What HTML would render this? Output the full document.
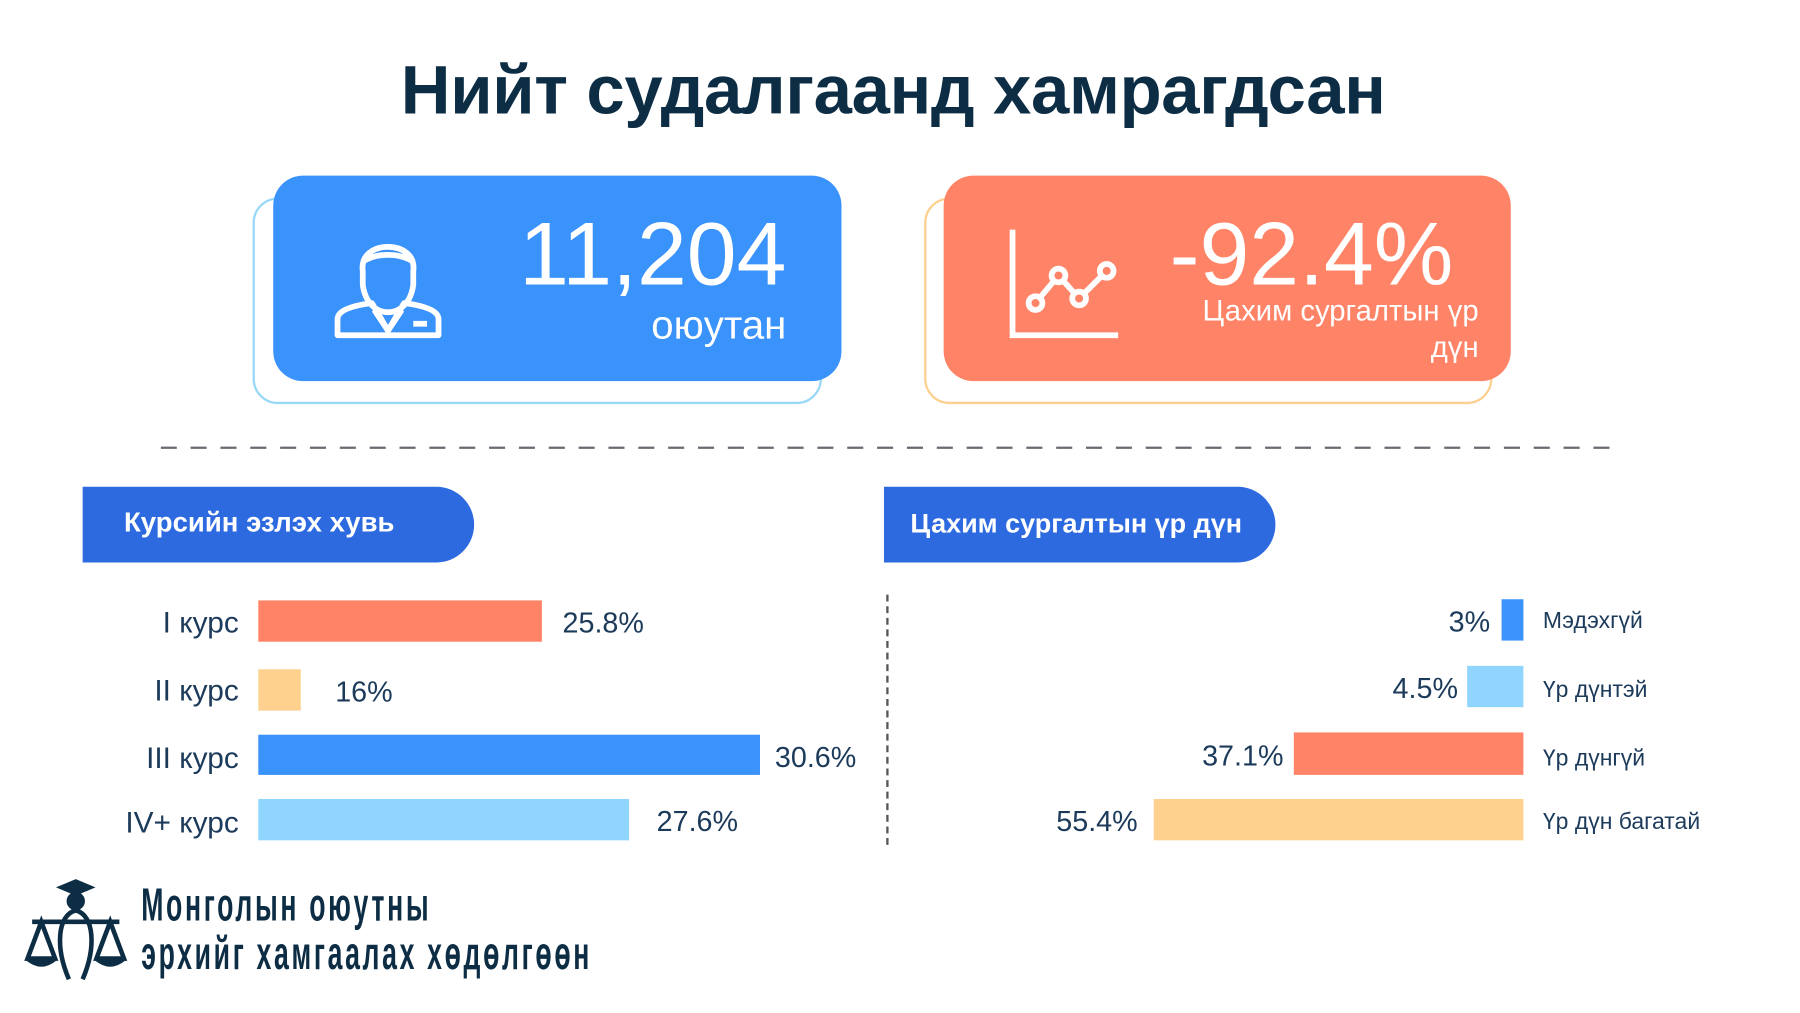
<!DOCTYPE html>
<html><head><meta charset="utf-8"><style>
html,body{margin:0;padding:0;background:#fff;width:1800px;height:1012px;overflow:hidden}
#w{position:absolute;left:0;top:0;width:1568px;height:882px;transform:scale(1.148);transform-origin:0 0;font-family:"Liberation Sans",sans-serif;color:#0d2d45}
.a{position:absolute}
.t{white-space:nowrap}
.lab{position:absolute;right:1360px;font-size:26px;color:#1c3a5a;white-space:nowrap}
.val{position:absolute;font-size:25px;color:#1c3a5a;white-space:nowrap}
.leg{position:absolute;left:1344px;font-size:20px;color:#1c3a5a;white-space:nowrap}
</style></head><body><div id="w">
<div class="a t" style="left:0;width:1556px;top:44px;text-align:center;font-size:60px;font-weight:bold;letter-spacing:-0.3px">Нийт судалгаанд хамрагдсан</div>

<div class="a" style="left:220px;top:172px;width:492px;height:176px;border:2px solid #9ad8f7;border-radius:22px"></div>
<div class="a" style="left:238px;top:153px;width:495px;height:179px;background:#3a92fb;border-radius:26px"></div>
<svg class="a" style="left:288px;top:198px" width="100" height="100" viewBox="0 0 100 100" fill="none" stroke="#fff" stroke-width="5" stroke-linejoin="round">
<path d="M28 38 C24 10 76 10 72 38 L72 50 C70 66 60 74 50 74 C40 74 30 66 28 50 Z"/>
<path d="M28 30 C40 22 60 22 72 30"/>
<path d="M6 94 L6 80 C6 72 20 68 36 66 L50 90 L64 66 C80 68 94 72 94 80 L94 94 Z"/>
<path d="M38 72 L50 90 L62 72"/><path d="M72 84 L84 84"/>
</svg>
<div class="a t" style="right:883px;top:176px;font-size:78px;color:#fff">11,204</div>
<div class="a t" style="right:883px;top:264px;font-size:35px;color:#fff">оюутан</div>

<div class="a" style="left:805px;top:172px;width:491px;height:176px;border:2px solid #fdd08f;border-radius:22px"></div>
<div class="a" style="left:822px;top:153px;width:494px;height:179px;background:#ff8467;border-radius:26px"></div>
<svg class="a" style="left:876px;top:198px" width="104" height="100" viewBox="0 0 104 100" fill="none" stroke="#fff" stroke-width="5">
<path d="M6 2 L6 94 L98 94"/>
<path d="M26 66 L46 42 L64 62 L88 38"/>
<circle cx="26" cy="66" r="6" fill="#ff8467"/><circle cx="46" cy="42" r="6" fill="#ff8467"/><circle cx="64" cy="62" r="6" fill="#ff8467"/><circle cx="88" cy="38" r="6" fill="#ff8467"/>
</svg>
<div class="a t" style="right:302px;top:176px;font-size:78px;color:#fff">-92.4%</div>
<div class="a t" style="right:280px;top:255px;font-size:25.5px;color:#fff;text-align:right;line-height:32px">Цахим сургалтын үр<br>дүн</div>

<svg class="a" style="left:140px;top:388px" width="1264" height="4"><line x1="0" y1="2" x2="1264" y2="2" stroke="#6a6a72" stroke-width="2" stroke-dasharray="14 12"/></svg>

<div class="a" style="left:72px;top:424px;width:341px;height:66px;background:#2d6ae0;border-radius:0 33px 33px 0"></div>
<div class="a t" style="left:108px;top:442px;font-size:24px;font-weight:bold;color:#fff">Курсийн эзлэх хувь</div>
<div class="a" style="left:770px;top:424px;width:341px;height:66px;background:#2d6ae0;border-radius:0 33px 33px 0"></div>
<div class="a t" style="left:793px;top:443px;font-size:23.5px;font-weight:bold;color:#fff">Цахим сургалтын үр дүн</div>

<div class="lab" style="top:527px">I курс</div>
<div class="lab" style="top:586px">II курс</div>
<div class="lab" style="top:645px">III курс</div>
<div class="lab" style="top:701px">IV+ курс</div>
<div class="a" style="left:225px;top:523px;width:247px;height:36px;background:#ff8467"></div>
<div class="a" style="left:225px;top:583px;width:37px;height:36px;background:#fed18f"></div>
<div class="a" style="left:225px;top:640px;width:437px;height:35px;background:#3a92fb"></div>
<div class="a" style="left:225px;top:696px;width:323px;height:36px;background:#90d5fd"></div>
<div class="val" style="left:490px;top:529px">25.8%</div>
<div class="val" style="left:292px;top:589px">16%</div>
<div class="val" style="left:675px;top:646px">30.6%</div>
<div class="val" style="left:572px;top:702px">27.6%</div>

<div class="a" style="left:772px;top:518px;height:218px;border-left:2px dashed #555"></div>

<div class="a" style="left:1308px;top:522px;width:19px;height:36px;background:#3a92fb"></div>
<div class="a" style="left:1278px;top:580px;width:49px;height:36px;background:#90d5fd"></div>
<div class="a" style="left:1127px;top:638px;width:200px;height:37px;background:#ff8467"></div>
<div class="a" style="left:1005px;top:696px;width:322px;height:36px;background:#fed18f"></div>
<div class="val" style="right:270px;top:528px">3%</div>
<div class="val" style="right:298px;top:586px">4.5%</div>
<div class="val" style="right:450px;top:645px">37.1%</div>
<div class="val" style="right:577px;top:702px">55.4%</div>
<div class="leg" style="top:530px">Мэдэхгүй</div>
<div class="leg" style="top:590px">Үр дүнтэй</div>
<div class="leg" style="top:650px">Үр дүнгүй</div>
<div class="leg" style="top:705px">Үр дүн багатай</div>

<svg class="a" style="left:20px;top:765px" width="92" height="92" viewBox="0 0 92 92" fill="none" stroke="#0d2d45" stroke-width="4">
<path d="M34 8 L46 3 L58 8 L46 13 Z" fill="#0d2d45"/><circle cx="46" cy="20" r="6" fill="#0d2d45"/>
<path d="M46 28 C30 32 28 60 40 88"/><path d="M46 28 C62 32 64 60 52 88"/>
<path d="M8 38 L84 38"/><path d="M16 38 L4 70 L28 70 Z"/><path d="M76 38 L64 70 L88 70 Z"/>
<path d="M4 70 Q16 80 28 70" fill="#0d2d45"/><path d="M64 70 Q76 80 88 70" fill="#0d2d45"/>
</svg>
<div class="a t" style="left:123px;top:768px;font-size:40px;font-weight:bold;line-height:42px;transform:scaleX(0.58);transform-origin:0 0;letter-spacing:4px">Монголын оюутны<br>эрхийг хамгаалах хөдөлгөөн</div>
</div></body></html>
